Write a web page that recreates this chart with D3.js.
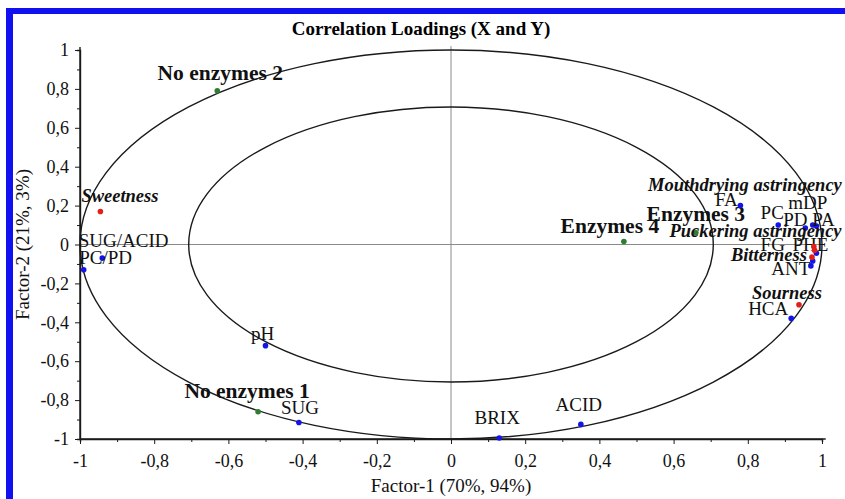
<!DOCTYPE html>
<html>
<head>
<meta charset="utf-8">
<script src="https://cdn.jsdelivr.net/npm/d3@7"></script>
<style>
  html, body { margin: 0; padding: 0; background: #fff; }
  svg { display: block; }
  text { font-family: "Liberation Serif", "DejaVu Serif", serif; }
</style>
</head>
<body>
<svg id="chart" width="845" height="499"></svg>
<script>
// ---------- data ----------
const xVarNames = ["SUG/ACID", "PC/PD", "pH", "SUG", "BRIX", "ACID", "HCA", "ANT", "FG", "PHE", "FA", "PC", "mDP", "PD", "PA"];
const xVarF1    = [-0.99, -0.94, -0.50, -0.41, 0.13, 0.35, 0.917, 0.97, 0.975, 0.985, 0.78, 0.882, 0.975, 0.955, 0.985];
const xVarF2    = [-0.13, -0.07, -0.52, -0.915, -0.995, -0.925, -0.38, -0.11, -0.085, -0.045, 0.20, 0.10, 0.10, 0.085, 0.095];

const yVarNames = ["Sweetness", "Mouthdrying astringency", "Puckering astringency", "Bitterness", "Sourness"];
const yVarF1    = [-0.945, 0.978, 0.98, 0.973, 0.938];
const yVarF2    = [0.17, -0.011, -0.03, -0.065, -0.31];

const sampleNames = ["No enzymes 1", "No enzymes 2", "Enzymes 3", "Enzymes 4"];
const sampleF1    = [-0.52, -0.63, 0.66, 0.466];
const sampleF2    = [-0.86, 0.79, 0.06, 0.015];

const axisTicks = [-1, -0.8, -0.6, -0.4, -0.2, 0, 0.2, 0.4, 0.6, 0.8, 1];
const minorTicks = [-0.9, -0.7, -0.5, -0.3, -0.1, 0.1, 0.3, 0.5, 0.7, 0.9];
const innerRadius = 0.707;
const outerRadius = 1;

const titleText = "Correlation Loadings (X and Y)";
const xTitle = "Factor-1 (70%, 94%)";
const yTitle = "Factor-2 (21%, 3%)";

// ---------- layout (label offsets in px, relative to point) ----------
const labelLayout = {
  "SUG/ACID": [-5, -23, "start"], "PC/PD": [-23, 6, "start"], "pH": [-3, -6, "middle"],
  "SUG": [1, -8, "middle"], "BRIX": [-2, -14, "middle"], "ACID": [-2, -13, "middle"],
  "HCA": [-23, -3, "middle"], "ANT": [-20, 9, "middle"], "FG": [-40, -10, "middle"],
  "PHE": [-6, -2, "middle"], "FA": [-14, 0, "middle"], "PC": [-6, -6, "middle"],
  "mDP": [-5, -16, "middle"], "PD": [-10, -2, "middle"], "PA": [7, 0, "middle"],
  "Sweetness": [-19, -9, "start"], "Mouthdrying astringency": [28, -56, "end"],
  "Puckering astringency": [27, -13, "end"], "Bitterness": [-5, 4, "end"],
  "Sourness": [23, -6, "end"],
  "No enzymes 1": [-11, -14, "middle"], "No enzymes 2": [3, -11, "middle"],
  "Enzymes 3": [0, -12, "middle"], "Enzymes 4": [-14, -9, "middle"]
};

const svg = d3.select("#chart");

// frame (blue border)
svg.append("rect").attr("x", 6).attr("y", 8).attr("width", 7).attr("height", 499 - 8).attr("fill", "#1010f0");
svg.append("rect").attr("x", 6).attr("y", 8).attr("width", 845 - 6).attr("height", 6).attr("fill", "#1010f0");

const x = d3.scaleLinear().domain([-1, 1]).range([80, 822]);
const y = d3.scaleLinear().domain([-1, 1]).range([439, 50]);

// title
svg.append("text").attr("x", 421).attr("y", 35).attr("text-anchor", "middle")
  .attr("font-size", 19).attr("font-weight", "bold").attr("fill", "#000").text(titleText);

// center lines
svg.append("line").attr("x1", x(0)).attr("x2", x(0)).attr("y1", y(1.02)).attr("y2", y(-1))
  .attr("stroke", "#8a8a8a").attr("stroke-width", 1);
svg.append("line").attr("x1", x(-1)).attr("x2", x(1)).attr("y1", y(0)).attr("y2", y(0))
  .attr("stroke", "#8a8a8a").attr("stroke-width", 1);

// ellipses
[outerRadius, innerRadius].forEach(r => {
  svg.append("ellipse").attr("cx", x(0)).attr("cy", y(0))
    .attr("rx", x(r) - x(0)).attr("ry", y(0) - y(r))
    .attr("fill", "none").attr("stroke", "#1a1a1a").attr("stroke-width", 1.4);
});

const fmt = v => Math.abs(v - Math.round(v)) < 1e-9 ? String(Math.round(v)) : v.toFixed(1).replace(".", ",");

// x axis
const gx = svg.append("g").attr("transform", `translate(0,${y(-1)})`)
  .call(d3.axisBottom(x).tickValues(axisTicks).tickFormat(fmt).tickSize(5).tickPadding(10));
gx.append("g").call(d3.axisBottom(x).tickValues(minorTicks).tickFormat("").tickSize(3));
// y axis
const gy = svg.append("g").attr("transform", `translate(${x(-1)},0)`)
  .call(d3.axisLeft(y).tickValues(axisTicks).tickFormat(fmt).tickSize(5).tickPadding(6));
gy.append("g").call(d3.axisLeft(y).tickValues(minorTicks).tickFormat("").tickSize(3));

[gx, gy].forEach(g => {
  g.selectAll(".domain").attr("stroke", "#1a1a1a").attr("stroke-width", 1.4);
  g.selectAll(".tick line").attr("stroke", "#1a1a1a");
  g.selectAll("text").attr("font-family", "Liberation Serif, serif").attr("font-size", 18).attr("fill", "#111");
});
gx.select(".domain").attr("d", `M${x(-1)},0H${x(1.01)}`);
gy.select(".domain").attr("d", `M0,${y(-1)}V${y(1.015)}`);

// axis titles
svg.append("text").attr("x", x(0)).attr("y", 492).attr("text-anchor", "middle")
  .attr("font-size", 19).attr("fill", "#111").text(xTitle);
svg.append("text").attr("transform", `translate(29,${y(0)}) rotate(-90)`).attr("text-anchor", "middle")
  .attr("font-size", 19).attr("fill", "#111").text(yTitle);

// points & labels
function drawGroup(names, f1, f2, color, labelStyle) {
  const data = names.map((n, i) => ({ name: n, f1: f1[i], f2: f2[i] }));
  const g = svg.append("g");
  g.selectAll("circle").data(data).join("circle")
    .attr("cx", d => x(d.f1)).attr("cy", d => y(d.f2)).attr("r", 2.8).attr("fill", color);
  g.selectAll("text").data(data).join("text")
    .attr("x", d => x(d.f1) + labelLayout[d.name][0])
    .attr("y", d => y(d.f2) + labelLayout[d.name][1])
    .attr("text-anchor", d => labelLayout[d.name][2])
    .attr("font-size", labelStyle.size)
    .attr("font-weight", labelStyle.weight)
    .attr("font-style", labelStyle.style)
    .attr("fill", "#111")
    .text(d => d.name);
}

drawGroup(sampleNames, sampleF1, sampleF2, "#2e7d32", { size: 21.5, weight: "bold", style: "normal" });
drawGroup(xVarNames, xVarF1, xVarF2, "#1414e6", { size: 19, weight: "normal", style: "normal" });
drawGroup(yVarNames, yVarF1, yVarF2, "#e0201a", { size: 18.5, weight: "bold", style: "italic" });
</script>
</body>
</html>
